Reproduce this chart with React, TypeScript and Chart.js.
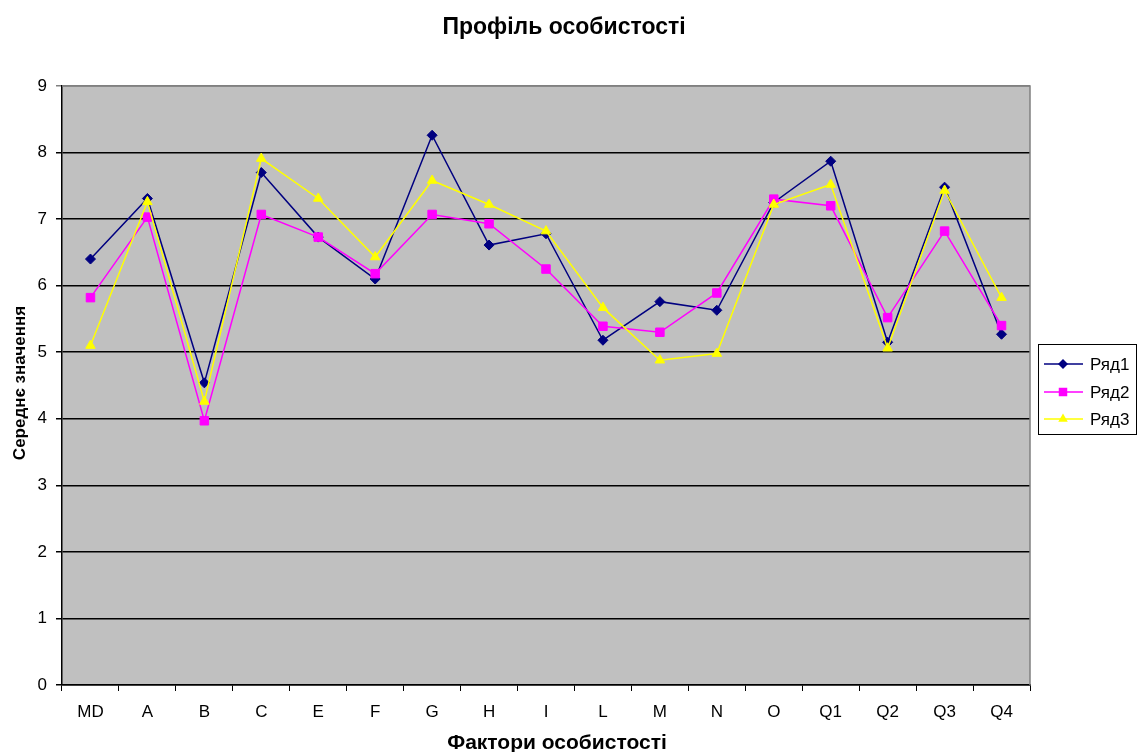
import React, { useEffect, useRef } from "react";
import { Chart, registerables } from "chart.js";

Chart.register(...registerables);

const categories = ["MD", "A", "B", "C", "E", "F", "G", "H", "I", "L", "M", "N", "O", "Q1", "Q2", "Q3", "Q4"];
const series1 = [6.40, 7.31, 4.54, 7.70, 6.73, 6.10, 8.26, 6.61, 6.78, 5.18, 5.76, 5.63, 7.25, 7.87, 5.15, 7.48, 5.27];
const series2 = [5.82, 7.03, 3.97, 7.07, 6.73, 6.18, 7.07, 6.93, 6.25, 5.39, 5.30, 5.89, 7.30, 7.20, 5.52, 6.82, 5.40];
const series3 = [5.10, 7.26, 4.26, 7.91, 7.31, 6.43, 7.58, 7.22, 6.82, 5.67, 4.88, 4.98, 7.22, 7.52, 5.06, 7.43, 5.82];
const seriesNames = ["Ряд1", "Ряд2", "Ряд3"];
const titleText = "Профіль особистості";
const xTitle = "Фактори особистості";
const yTitle = "Середнє значення";

const FONT = "'Liberation Sans', Arial, sans-serif";
const colors = ["#000080", "#FF00FF", "#FFFF00"];
const styles = ["rectRot", "rect", "triangle"];
const radii = [5, 6, 5.5];

function drawMarker(ctx: CanvasRenderingContext2D, style: string, r: number, x: number, y: number) {
  ctx.beginPath();
  if (style === "rectRot") {
    ctx.moveTo(x, y - r);
    ctx.lineTo(x + r, y);
    ctx.lineTo(x, y + r);
    ctx.lineTo(x - r, y);
  } else if (style === "rect") {
    const s = r * Math.SQRT1_2;
    ctx.rect(x - s, y - s, 2 * s, 2 * s);
  } else {
    ctx.moveTo(x, y - r);
    ctx.lineTo(x + r * 0.866, y + r * 0.5);
    ctx.lineTo(x - r * 0.866, y + r * 0.5);
  }
  ctx.closePath();
  ctx.fill();
}

const decorPlugin = {
  id: "decor",
  beforeDraw(chart: any) {
    const { ctx, chartArea: a } = chart;
    ctx.save();
    ctx.fillStyle = "#ffffff";
    ctx.fillRect(0, 0, chart.width, chart.height);
    ctx.fillStyle = "#C0C0C0";
    ctx.fillRect(a.left, a.top, a.right - a.left, a.bottom - a.top);
    ctx.restore();
  },
  afterDatasetsDraw(chart: any) {
    const { ctx, chartArea: a } = chart;
    ctx.save();
    ctx.strokeStyle = "#808080";
    ctx.lineWidth = 1.5;
    ctx.beginPath();
    ctx.moveTo(a.left, a.top);
    ctx.lineTo(a.right, a.top);
    ctx.lineTo(a.right, a.bottom);
    ctx.stroke();
    ctx.restore();
  },
  afterDraw(chart: any) {
    const { ctx } = chart;
    ctx.save();
    ctx.fillStyle = "#000";
    ctx.textAlign = "center";
    ctx.textBaseline = "middle";
    ctx.font = `bold 23px ${FONT}`;
    ctx.fillText(titleText, 564, 28);
    ctx.font = `bold 21px ${FONT}`;
    ctx.fillText(xTitle, 557, 743);
    ctx.save();
    ctx.translate(20, 383);
    ctx.rotate(-Math.PI / 2);
    ctx.font = `bold 17px ${FONT}`;
    ctx.fillText(yTitle, 0, 0);
    ctx.restore();

    // legend
    ctx.strokeStyle = "#000";
    ctx.lineWidth = 1;
    ctx.strokeRect(1038.5, 344.5, 98, 90);
    const ys = [364, 392, 419];
    ctx.textAlign = "left";
    ctx.font = `17px ${FONT}`;
    for (let i = 0; i < 3; i++) {
      const y = ys[i];
      ctx.strokeStyle = colors[i];
      ctx.lineWidth = 1.5;
      ctx.beginPath();
      ctx.moveTo(1044, y);
      ctx.lineTo(1083, y);
      ctx.stroke();
      ctx.fillStyle = colors[i];
      drawMarker(ctx, styles[i], radii[i], 1063, y);
      ctx.fillStyle = "#000";
      ctx.fillText(seriesNames[i], 1090, y + 1);
    }
    ctx.restore();
  },
};

export default function App() {
  const ref = useRef<HTMLCanvasElement | null>(null);
  useEffect(() => {
    if (!ref.current) return;
    const data = [series1, series2, series3];
    const chart = new Chart(ref.current, {
      type: "line",
      data: {
        labels: categories,
        datasets: data.map((d, i) => ({
          label: seriesNames[i],
          data: d,
          borderColor: colors[i],
          backgroundColor: colors[i],
          pointBackgroundColor: colors[i],
          pointBorderColor: colors[i],
          pointBorderWidth: 1,
          pointStyle: styles[i] as any,
          pointRadius: radii[i],
          borderWidth: 1.5,
          tension: 0,
          fill: false,
          order: 3 - i,
        })),
      },
      options: {
        responsive: false,
        animation: false,
        devicePixelRatio: 1,
        layout: { padding: { left: 0, top: 86, right: 108, bottom: 0 } },
        plugins: {
          legend: { display: false },
          title: { display: false },
          tooltip: { enabled: false },
        },
        scales: {
          x: {
            type: "category",
            offset: true,
            afterFit: (s: any) => { s.height = 67; },
            grid: { offset: true, drawOnChartArea: false, drawTicks: true, tickLength: 6, color: "#000", lineWidth: 1 },
            border: { display: true, color: "#000", width: 1.5 },
            ticks: { color: "#000", font: { family: FONT, size: 17 }, padding: 11, maxRotation: 0, autoSkip: false },
          },
          y: {
            min: 0,
            max: 9,
            afterFit: (s: any) => { s.width = 62; },
            grid: {
              color: (c: any) => (c.tick && c.tick.value === 9 ? "#808080" : "#000"),
              lineWidth: 1.5,
              tickLength: 6,
              drawTicks: true,
            },
            border: { display: true, color: "#000", width: 1.5 },
            ticks: { stepSize: 1, color: "#000", font: { family: FONT, size: 17 }, padding: 9 },
          },
        },
      },
      plugins: [decorPlugin],
    });
    return () => chart.destroy();
  }, []);
  return (
    <div style={{ position: "absolute", left: 0, top: 0, width: 1138, height: 752 }}>
      <canvas ref={ref} width={1138} height={752} style={{ width: 1138, height: 752, display: "block" }} />
    </div>
  );
}
